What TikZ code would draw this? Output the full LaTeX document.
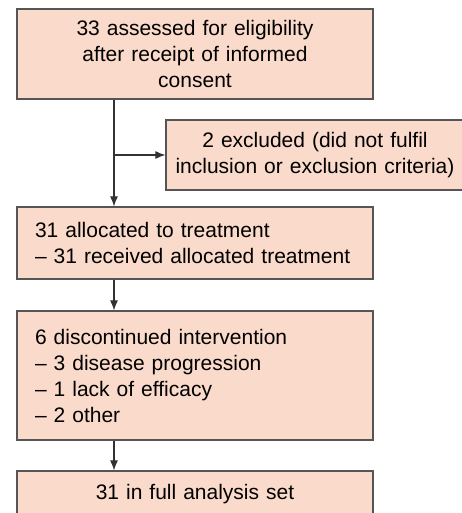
\documentclass[tikz,border=0pt]{standalone}
\usepackage{fontspec}
\setmainfont{Liberation Sans}
\usetikzlibrary{arrows.meta,positioning,calc}
\usepackage{xcolor}
\definecolor{boxfill}{RGB}{250,218,202}
\definecolor{boxline}{RGB}{85,85,85}
\definecolor{flowline}{RGB}{50,50,50}

\begin{document}
\begin{tikzpicture}[x=1pt, y=-1pt,
    box/.style={draw=boxline, fill=boxfill, line width=1.2pt, minimum width=356pt,
        text width=320pt, inner xsep=18pt, font=\fontsize{21}{26}\selectfont},
    flow/.style={draw=flowline, line width=1.1pt, -{Latex[length=10pt,width=8pt]}}]
    \useasboundingbox (0,0) rectangle (462,513);

    % Screening
    \node[box, minimum height=90pt, align=center] (assess) at (195,54)
        {33 assessed for eligibility\\ after receipt of informed\\ consent};

    % Excluded
    \node[box, minimum width=298pt, text width=290pt, inner xsep=4pt, minimum height=70pt, align=center] (excl) at (315,155)
        {2 excluded (did not fulfil\\ inclusion or exclusion criteria)};

    % Allocation
    \node[box, minimum height=72pt, align=left] (alloc) at (195,243)
        {31 allocated to treatment\\ -- 31 received allocated treatment};

    % Discontinued
    \node[box, minimum height=129pt, align=left] (disc) at (195,375.5)
        {6 discontinued intervention\\ -- 3 disease progression\\ -- 1 lack of efficacy\\ -- 2 other};

    % Analysis
    \node[box, minimum height=46pt, align=center] (full) at (195,494)
        {31 in full analysis set};

    % Connectors
    \coordinate (split) at (114,155);
    \draw[flow] (assess.south -| split) -- (alloc.north -| split);
    \draw[flow] (split) -- (excl.west);
    \draw[flow] (alloc.south -| split) -- (disc.north -| split);
    \draw[flow] (disc.south -| split) -- (full.north -| split);
\end{tikzpicture}
\end{document}
